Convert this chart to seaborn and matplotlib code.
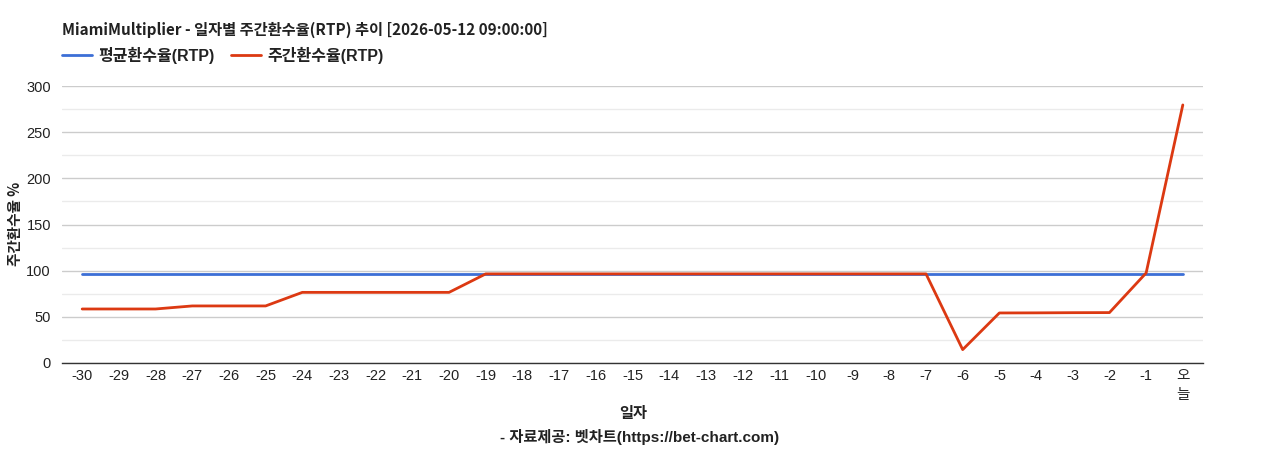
import matplotlib
matplotlib.use("Agg")
import matplotlib.pyplot as plt
import seaborn as sns
import pandas as pd
import numpy as np
from matplotlib.ticker import MultipleLocator
from matplotlib.lines import Line2D

sns.set_theme(style="white")
plt.rcParams['font.family'] = ['Liberation Sans', 'Noto Sans CJK KR', 'DejaVu Sans']

days = [str(d) for d in range(-30, 0)] + ["오\n늘"]
avg_rtp = [96.3] * 31
weekly_rtp = [58.5, 58.5, 58.5, 61.8, 61.8, 61.8, 76.5, 76.5, 76.5, 76.5, 76.5,
              96.5, 96.5, 96.5, 96.5, 96.5, 96.5, 96.5, 96.5, 96.5, 96.5, 96.5, 96.5, 96.5,
              14.5, 54.2, 54.3, 54.5, 54.6, 97.5, 279.5]

title = "MiamiMultiplier - 일자별 주간환수율(RTP) 추이 [2026-05-12 09:00:00]"
series_names = ["평균환수율(RTP)", "주간환수율(RTP)"]
colors = ["#3c6fd6", "#dc3912"]

df = pd.DataFrame({"x": np.arange(len(days)), series_names[0]: avg_rtp, series_names[1]: weekly_rtp})
long = df.melt(id_vars="x", var_name="series", value_name="rtp")

fig = plt.figure(figsize=(12.68, 4.5), dpi=100)
ax = fig.add_axes([62/1268, 87/450, (1203-62)/1268, (363-86)/450])

sns.lineplot(data=long, x="x", y="rtp", hue="series", palette=colors, ax=ax,
             linewidth=2, legend=False)

ax.set_xlim(-0.55, len(days) - 0.45)
ax.set_ylim(0, 300)
ax.yaxis.set_major_locator(MultipleLocator(50))
ax.yaxis.set_minor_locator(MultipleLocator(25))
ax.grid(axis='y', which='major', color='#cccccc', linewidth=1)
ax.grid(axis='y', which='minor', color='#ebebeb', linewidth=1)
ax.set_axisbelow(True)
for s in ['top', 'right', 'left']:
    ax.spines[s].set_visible(False)
ax.spines['bottom'].set_color('#333333')
ax.spines['bottom'].set_linewidth(1)
ax.set_xticks(np.arange(len(days)))
ax.set_xticklabels(days, fontsize=10.5, color='#222222', linespacing=1.5, va='top', rotation=0)
ax.tick_params(axis='y', labelsize=10.5, labelcolor='#222222', length=0, pad=8)
ax.tick_params(axis='y', which='minor', length=0)
ax.tick_params(axis='x', length=0, pad=4)
ax.set_xlabel("")
ax.set_ylabel("")

fig.text(15/1268, 1 - 224/450, "주간환수율 %", fontsize=10.5, fontweight='bold', color='#222222',
         rotation=90, ha='center', va='center', family=['Noto Sans CJK KR', 'DejaVu Sans'])

fig.text(62/1268, 1 - 30/450, title, fontsize=11, fontweight='bold', color='#222222', va='center', ha='left',
         family=['Noto Sans CJK KR', 'DejaVu Sans'])

handles = [Line2D([0], [0], color=c, lw=2) for c in colors]
leg = fig.legend(handles, series_names, loc='center left', bbox_to_anchor=(62/1268, 1 - 55/450),
                 ncol=2, frameon=False, prop={'size': 11.5, 'weight': 'bold'},
                 handlelength=1.9, handletextpad=0.35, columnspacing=1.05, borderpad=0, borderaxespad=0)
for t in leg.get_texts():
    t.set_color('#222222')

fig.text(633/1268, 1 - 414/450, "일자", fontsize=11, fontweight='bold', color='#222222', ha='center', va='center')
fig.text(640/1268, 1 - 437/450, "- 자료제공: 벳차트(https://bet-chart.com)", fontsize=11, fontweight='bold',
         color='#222222', ha='center', va='center')

fig.savefig("out.png", dpi=100, facecolor='white')
